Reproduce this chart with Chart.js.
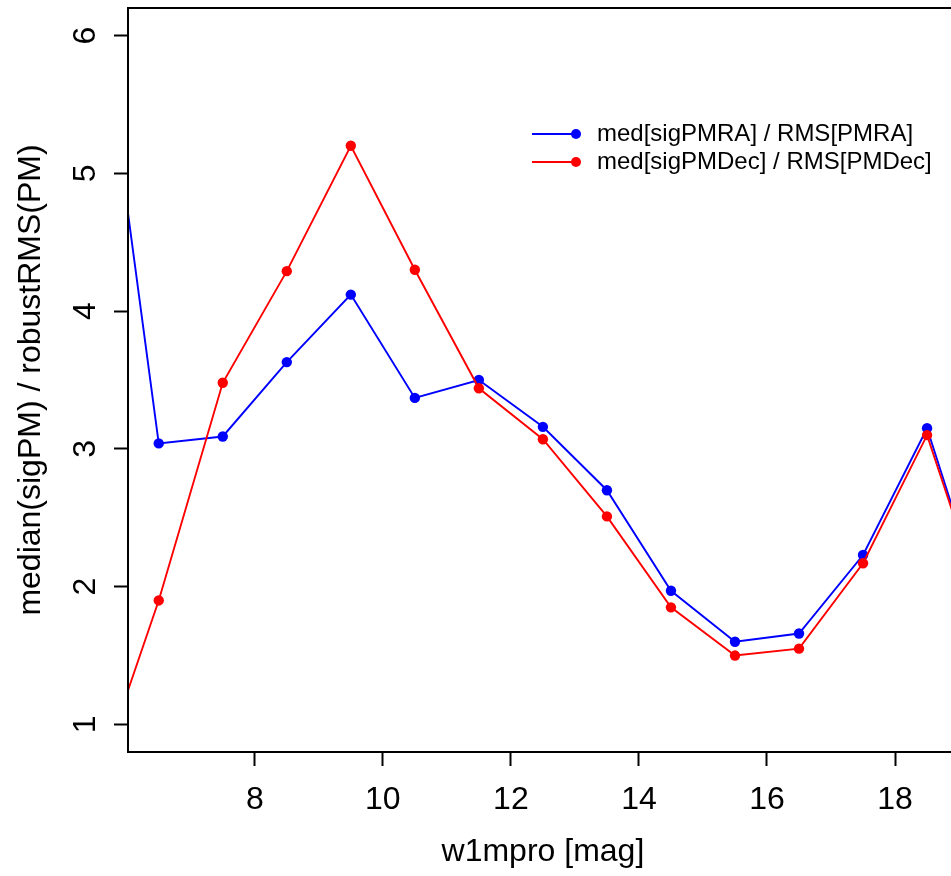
<!DOCTYPE html>
<html>
<head>
<meta charset="utf-8">
<script src="https://cdn.jsdelivr.net/npm/chart.js@4/dist/chart.umd.min.js"></script>
<style>
  html, body { margin: 0; padding: 0; background: #fff; overflow: hidden; }
  #wrap { width: 963px; height: 876px; }
</style>
</head>
<body>
<div id="wrap"><canvas id="c" width="963" height="876"></canvas></div>
<script>
// Magnitude bin centres (w1mpro) and the per-bin ratio of median formal
// proper-motion error to robust RMS of the measured proper motion.
const magBins  = [5.5, 6.5, 7.5, 8.5, 9.5, 10.5, 11.5, 12.5, 13.5, 14.5, 15.5, 16.5, 17.5, 18.5, 19.5];
const ratioRA  = [6.52, 3.04, 3.09, 3.63, 4.12, 3.37, 3.50, 3.16, 2.70, 1.97, 1.60, 1.66, 2.23, 3.15, 1.70];
const ratioDec = [0.54, 1.90, 3.48, 4.29, 5.20, 4.30, 3.44, 3.07, 2.51, 1.85, 1.50, 1.55, 2.17, 3.10, 1.70];

const xTickValues = [8, 10, 12, 14, 16, 18];
const yTickValues = [1, 2, 3, 4, 5, 6];

const seriesLabels = ['med[sigPMRA] / RMS[PMRA]', 'med[sigPMDec] / RMS[PMDec]'];
const seriesColors = ['#0000ff', '#ff0000'];

const FONT = 'Liberation Sans, Arial, Helvetica, sans-serif';

const toPoints = (xs, ys) => xs.map((x, i) => ({ x: x, y: ys[i] }));

// Keep the plotting region fixed: no extra room reserved for edge labels
const noEdgePadding = s => {
  s.paddingTop = 0; s.paddingBottom = 0;
  s.paddingLeft = 0; s.paddingRight = 0;
};

// Box around the plotting region, drawn over the clipped lines
const frame = {
  id: 'frame',
  afterDatasetsDraw(chart) {
    const { ctx, chartArea: a } = chart;
    ctx.save();
    ctx.strokeStyle = '#000';
    ctx.lineWidth = 2;
    ctx.strokeRect(a.left, a.top, a.right - a.left, a.bottom - a.top);
    ctx.restore();
  }
};

// Borderless legend in the upper right of the plot (line + dot + label)
const insetLegend = {
  id: 'insetLegend',
  afterDraw(chart) {
    const ctx = chart.ctx;
    const x0 = 532, x1 = 576, textX = 597, y0 = 134, rowH = 28;
    ctx.save();
    chart.data.datasets.forEach((ds, i) => {
      const y = y0 + i * rowH;
      ctx.strokeStyle = ds.borderColor;
      ctx.lineWidth = 1.8;
      ctx.beginPath();
      ctx.moveTo(x0, y);
      ctx.lineTo(x1, y);
      ctx.stroke();
      ctx.fillStyle = ds.borderColor;
      ctx.beginPath();
      ctx.arc(x1, y, 5, 0, Math.PI * 2);
      ctx.fill();
      ctx.fillStyle = '#000';
      ctx.font = '24px ' + FONT;
      ctx.textAlign = 'left';
      ctx.textBaseline = 'middle';
      ctx.fillText(ds.label, textX, y);
    });
    ctx.restore();
  }
};

new Chart(document.getElementById('c'), {
  type: 'line',
  data: {
    datasets: [
      {
        label: seriesLabels[0],
        data: toPoints(magBins, ratioRA),
        borderColor: seriesColors[0],
        backgroundColor: seriesColors[0],
        borderWidth: 1.9,
        pointRadius: 5.2,
        pointBorderWidth: 0,
        pointBackgroundColor: seriesColors[0],
        tension: 0,
        order: 1
      },
      {
        label: seriesLabels[1],
        data: toPoints(magBins, ratioDec),
        borderColor: seriesColors[1],
        backgroundColor: seriesColors[1],
        borderWidth: 1.9,
        pointRadius: 5.2,
        pointBorderWidth: 0,
        pointBackgroundColor: seriesColors[1],
        tension: 0,
        order: 0
      }
    ]
  },
  options: {
    responsive: false,
    animation: false,
    devicePixelRatio: 1,
    layout: { padding: { left: 0, top: 8, right: 2, bottom: 0 } },
    plugins: {
      legend: { display: false },
      tooltip: { enabled: false }
    },
    scales: {
      x: {
        type: 'linear',
        min: 6.02,
        max: 18.98,
        afterBuildTicks: s => { s.ticks = xTickValues.map(v => ({ value: v })); },
        afterFit: s => { s.height = 124; noEdgePadding(s); },
        border: { display: false },
        grid: { drawOnChartArea: false, drawTicks: true, tickLength: 14, tickColor: '#000', tickWidth: 2 },
        ticks: { color: '#000', font: { family: FONT, size: 32 }, padding: 15, maxRotation: 0, minRotation: 0 },
        title: {
          display: true,
          text: 'w1mpro [mag]',
          color: '#000',
          font: { family: FONT, size: 32 },
          padding: { top: 0, bottom: 5 }
        }
      },
      y: {
        type: 'linear',
        min: 0.8,
        max: 6.2,
        afterBuildTicks: s => { s.ticks = yTickValues.map(v => ({ value: v })); },
        afterFit: s => { s.width = 128; noEdgePadding(s); },
        border: { display: false },
        grid: { drawOnChartArea: false, drawTicks: true, tickLength: 14, tickColor: '#000', tickWidth: 2 },
        ticks: {
          color: '#000',
          font: { family: FONT, size: 32 },
          minRotation: 90,
          maxRotation: 90,
          crossAlign: 'center',
          padding: 19
        },
        title: {
          display: true,
          text: 'median(sigPM) / robustRMS(PM)',
          color: '#000',
          font: { family: FONT, size: 32 },
          padding: { top: 12, bottom: 0 }
        }
      }
    }
  },
  plugins: [frame, insetLegend]
});
</script>
</body>
</html>
